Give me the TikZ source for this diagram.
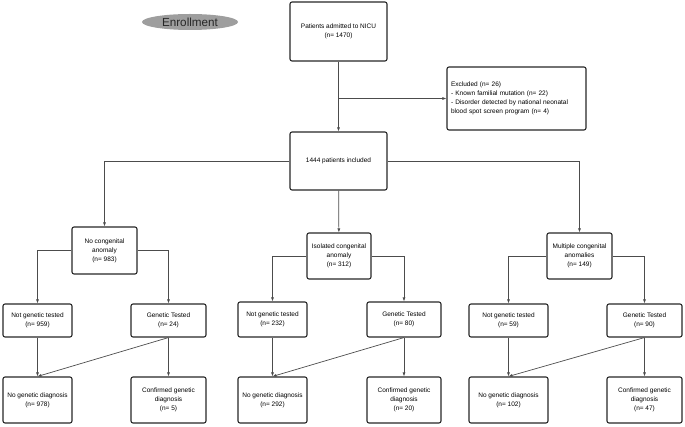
\documentclass[tikz,border=0pt]{standalone}
\usepackage{fontspec}
\setmainfont{Liberation Sans}
\usetikzlibrary{arrows.meta,shapes.geometric}

\begin{document}
\begin{tikzpicture}[x=1pt,y=-1pt,
	box/.style={draw=black!85,line width=1.1pt,rounded corners=2pt,inner sep=1pt,align=center,font=\fontsize{6.5}{9}\selectfont},
	elbow/.style={to path={-| (\tikztotarget)}},
	>={Latex[length=4pt,width=3pt]}]
			\useasboundingbox (0,0) rectangle (685,427);
			\draw (190,22) node [ellipse,fill=black!38,inner sep=0pt,minimum width=96,minimum height=16,font=\fontsize{11.7}{12}\selectfont,text=black!85] (0) {Enrollment};
			\draw (338.5,31.5) node [box,minimum width=97,minimum height=59] (1) {Patients admitted to NICU\\(n= 1470)};
			\draw (516.5,98.5) node [box,minimum height=63,text width=131,inner xsep=4,align=left] (2) {Excluded (n= 26)\\- Known familial mutation (n= 22)\\- Disorder detected by national neonatal\\blood spot screen program (n= 4)};
			\draw (338.5,161) node [box,minimum width=97,minimum height=58] (3) {1444 patients included};
			\draw (104.5,250.5) node [box,minimum width=65,minimum height=47] (4) {No congenital\\anomaly\\(n= 983)};
			\draw (339,256) node [box,minimum width=64,minimum height=46] (5) {Isolated congenital\\anomaly\\(n= 312)};
			\draw (579.5,256) node [box,minimum width=65,minimum height=46] (6) {Multiple congenital\\anomalies\\(n= 149)};
			\draw (37.5,320.5) node [box,minimum width=69,minimum height=33] (7) {Not genetic tested\\(n= 959)};
			\draw (168.5,320.5) node [box,minimum width=75,minimum height=33] (8) {Genetic Tested\\(n= 24)};
			\draw (37.5,400) node [box,minimum width=69,minimum height=46] (9) {No genetic diagnosis\\(n= 978)};
			\draw (168.5,400) node [box,minimum width=75,minimum height=46] (10) {Confirmed genetic\\diagnosis\\(n= 5)};
			\draw (272.5,319.5) node [box,minimum width=69,minimum height=35] (11) {Not genetic tested\\(n= 232)};
			\draw (404,319.5) node [box,minimum width=74,minimum height=35] (12) {Genetic Tested\\(n= 80)};
			\draw (272.5,400) node [box,minimum width=69,minimum height=46] (13) {No genetic diagnosis\\(n= 292)};
			\draw (404,400) node [box,minimum width=74,minimum height=46] (14) {Confirmed genetic\\diagnosis\\(n= 20)};
			\draw (508.5,320.5) node [box,minimum width=79,minimum height=33] (15) {Not genetic tested\\(n= 59)};
			\draw (644.5,320.5) node [box,minimum width=75,minimum height=33] (16) {Genetic Tested\\(n= 90)};
			\draw (508.5,400) node [box,minimum width=79,minimum height=46] (17) {No genetic diagnosis\\(n= 102)};
			\draw (644.5,400) node [box,minimum width=75,minimum height=46] (18) {Confirmed genetic\\diagnosis\\(n= 47)};
			\coordinate (s) at (1.south |- 2.west);
			\path[->,black!70,line width=0.7pt]
				(1) edge (3)
				(s) edge (2)
				(3.west) edge [elbow] (4.north)
				(3) edge (5)
				(3.east) edge [elbow] (6.north)
				(4.west) edge [elbow] (7.north)
				(4.east) edge [elbow] (8.north)
				(7) edge (9)
				(8.south) edge (9.north)
				(8) edge (10)
				(5.west) edge [elbow] (11.north)
				(5.east) edge [elbow] (12.north)
				(11) edge (13)
				(12.south) edge (13.north)
				(12) edge (14)
				(6.west) edge [elbow] (15.north)
				(6.east) edge [elbow] (16.north)
				(15) edge (17)
				(16.south) edge (17.north)
				(16) edge (18);
		\end{tikzpicture}
\end{document}
